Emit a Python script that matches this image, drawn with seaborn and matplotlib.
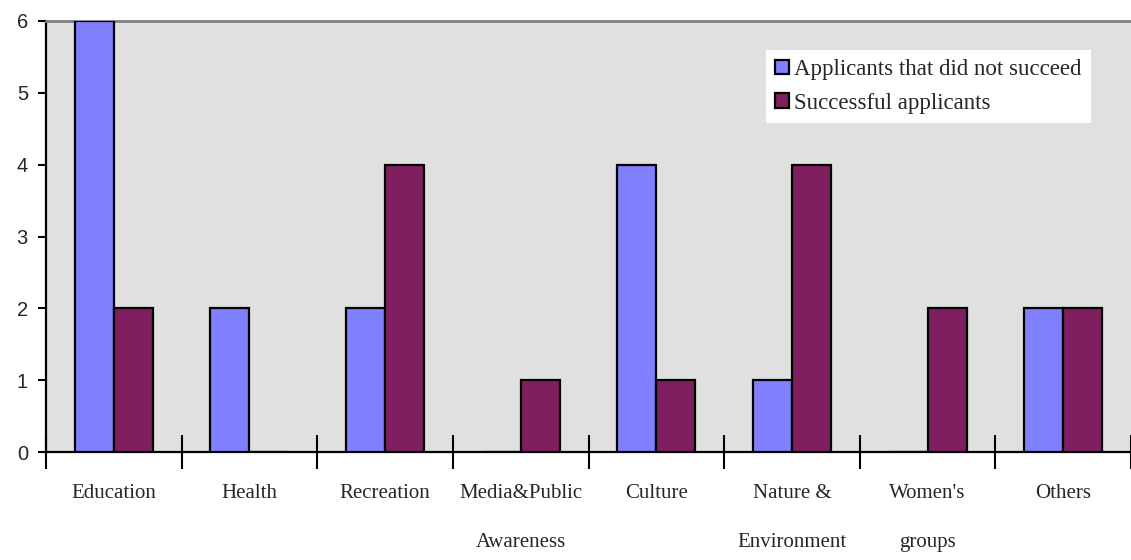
import matplotlib
matplotlib.use('Agg')
import matplotlib.pyplot as plt
import seaborn as sns
import pandas as pd
import numpy as np

# ========== data ==========
categories = ['Education', 'Health', 'Recreation', 'Media&Public\nAwareness', 'Culture',
              'Nature &\nEnvironment', "Women's\ngroups", 'Others']
not_succeeded = [6, 2, 2, 0, 4, 1, 0, 2]
successful = [2, 0, 4, 1, 1, 4, 2, 2]
series_names = ['Applicants that did not succeed', 'Successful applicants']
y_ticks = [0, 1, 2, 3, 4, 5, 6]

df = pd.DataFrame({
    'category': categories * 2,
    'count': not_succeeded + successful,
    'series': [series_names[0]] * len(categories) + [series_names[1]] * len(categories),
})

sns.set_style('white')
plt.rcParams['font.family'] = ['Liberation Serif', 'DejaVu Serif']

fig = plt.figure(figsize=(11.31, 5.6), dpi=100)
ax = fig.add_axes([46 / 1131, 108 / 560, 1 - 46 / 1131, 431 / 560])
ax.set_facecolor('#E0E0E0')

sns.barplot(data=df, x='category', y='count', hue='series', order=categories,
            hue_order=series_names, palette=['#8080FF', '#7F1F5F'],
            width=0.575, edgecolor='black', linewidth=1.6, saturation=1,
            ax=ax, zorder=3)

ax.set_xlim(-0.5, len(categories) - 0.5)
ax.set_ylim(0, 6)
ax.set_yticks(y_ticks)
ax.set_yticklabels([str(t) for t in y_ticks], family='Liberation Sans', fontsize=14.5)
ax.tick_params(axis='y', left=True, direction='out', length=6, width=1.5, color='black', pad=7)

ax.set_xticks(range(len(categories)))
ax.set_xticklabels(categories, fontsize=15, linespacing=3.15, va='top')
ax.tick_params(axis='x', which='major', bottom=True, length=0, pad=23)
ax.set_xticks(np.arange(-0.5, len(categories), 1.0), minor=True)
ax.tick_params(axis='x', which='minor', bottom=True, direction='inout', length=24,
               width=1.5, color='black')

ax.set_xlabel('')
ax.set_ylabel('')

for side in ['left', 'bottom']:
    ax.spines[side].set_color('black')
    ax.spines[side].set_linewidth(1.6)
ax.spines['top'].set_color('#808080')
ax.spines['top'].set_linewidth(2)
ax.spines['right'].set_visible(False)

leg = ax.legend(loc='upper right', bbox_to_anchor=(1045 / 1085, 402 / 431), fontsize=16.5,
                frameon=True, fancybox=False, framealpha=1, edgecolor='white',
                handlelength=0.6, handleheight=0.6, handletextpad=0.25,
                borderpad=0.4, labelspacing=0.55, borderaxespad=0)
leg.get_frame().set_linewidth(0)

plt.savefig('out.png', dpi=100)
